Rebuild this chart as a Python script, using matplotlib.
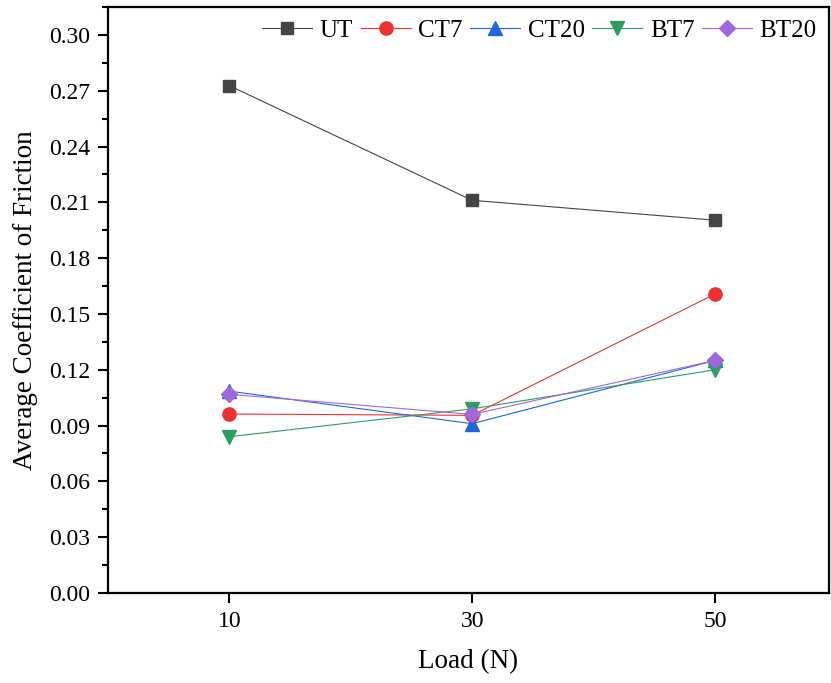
import numpy as np
import matplotlib
matplotlib.use("Agg")
import matplotlib.pyplot as plt
from matplotlib.ticker import MultipleLocator

plt.rcParams['font.family'] = ['Liberation Serif', 'DejaVu Serif']

loads = [10, 30, 50]
ut = [0.2727, 0.2111, 0.2004]
ut_err = [0.0025, 0.0012, 0.0012]
ct7 = [0.0962, 0.0955, 0.1607]
ct20 = [0.1085, 0.0910, 0.1250]
bt7 = [0.0840, 0.0990, 0.1200]
bt20 = [0.1068, 0.0960, 0.1250]

series = [
    ("UT", ut, 's', '#444444', 9),
    ("CT7", ct7, 'o', '#ee3030', 9.5),
    ("CT20", ct20, '^', '#1f66dd', 9.5),
    ("BT7", bt7, 'v', '#2e9d60', 9.5),
    ("BT20", bt20, 'D', '#a066dd', 8),
]

fig = plt.figure(figsize=(8.31, 6.83), dpi=100)
ax = fig.add_axes([108 / 831, 1 - 593 / 683, 721 / 831, 586 / 683])

# error bars on UT only
ax.errorbar(loads, ut, yerr=ut_err, fmt='none', ecolor='#444444',
            elinewidth=0.9, capsize=4)
for name, vals, mk, col, ms in series:
    ax.plot(loads, vals, marker=mk, color=col, markersize=ms,
            linewidth=0.8, label=name)

ax.set_xlim(0, 59.4)
ax.set_ylim(0, 0.315)
ax.set_xticks(loads)
ax.yaxis.set_major_locator(MultipleLocator(0.03))
ax.yaxis.set_minor_locator(MultipleLocator(0.015))
ax.yaxis.set_major_formatter(matplotlib.ticker.FormatStrFormatter('%.2f'))
ax.tick_params(which='major', direction='out', length=7, width=1.5,
               labelsize=17, pad=6)
ax.tick_params(axis='x', pad=6)
ax.tick_params(which='minor', direction='out', length=4, width=1.5)
for s in ax.spines.values():
    s.set_linewidth(1.6)

ax.set_xlabel("Load (N)", fontsize=19.5, labelpad=12)
ax.set_ylabel("Average Coefficient of Friction", fontsize=19.5, labelpad=8)

ax.legend(loc='upper right', ncol=5, frameon=False, fontsize=18,
          handlelength=2.0, handletextpad=0.3, columnspacing=0.3,
          borderaxespad=0.1, bbox_to_anchor=(1.0, 1.0))

fig.savefig("out.png", dpi=100)
